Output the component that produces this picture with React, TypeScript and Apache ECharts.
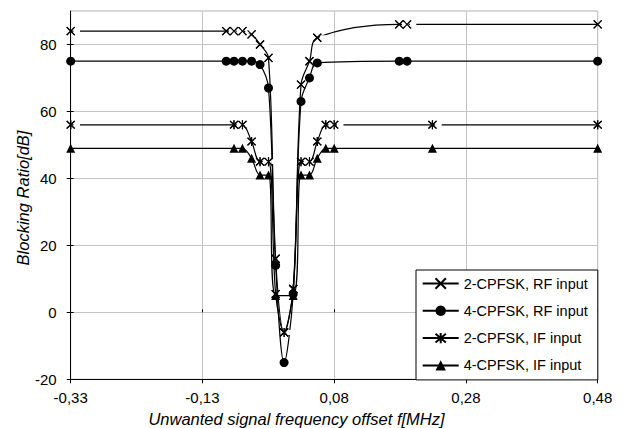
import React, { useEffect, useRef } from 'react';
import * as echarts from 'echarts';

// ---- axis definitions ----
const X_MIN = -0.33;
const X_MAX = 0.48;
const X_STEP = 0.2025;
const X_TICK_LABELS = ['-0,33', '-0,13', '0,08', '0,28', '0,48'];
const Y_MIN = -20;
const Y_MAX = 90;
const Y_TICKS = [-20, 0, 20, 40, 60, 80];

const SERIES_NAMES = ['2-CPFSK, RF input', '4-CPFSK, RF input', '2-CPFSK, IF input', '4-CPFSK, IF input'];
const X_TITLE = 'Unwanted signal frequency offset f[MHz]';
const Y_TITLE = 'Blocking Ratio[dB]';

// ---- data (MHz, dB) ----
const rf2X = [-0.33, -0.091, -0.079, -0.066, -0.052, -0.039, -0.026, -0.015, -0.002, 0.012, 0.024, 0.037, 0.049, 0.175, 0.187, 0.48];
const rf2Y = [84, 84, 84, 84, 83, 80, 76, 16, -6, 7, 68, 75, 82, 86, 86, 86];

const rf4X = [-0.33, -0.091, -0.079, -0.066, -0.052, -0.039, -0.026, -0.015, -0.002, 0.012, 0.024, 0.037, 0.049, 0.175, 0.187, 0.48];
const rf4Y = [75, 75, 75, 75, 75, 74, 67, 14, -15, 5.5, 63, 70, 74.5, 75, 75, 75];

const if2X = [-0.33, -0.079, -0.066, -0.052, -0.039, -0.026, -0.015, -0.002, 0.012, 0.024, 0.037, 0.049, 0.062, 0.075, 0.226, 0.48];
const if2Y = [56, 56, 56, 51, 45, 45, 5.5, -6, 7, 45, 45, 51, 56, 56, 56, 56];

const if4X = [-0.33, -0.079, -0.066, -0.052, -0.039, -0.026, -0.015, 0.012, 0.024, 0.037, 0.049, 0.062, 0.075, 0.226, 0.48];
const if4Y = [49, 49, 49, 46, 41, 41, 5, 5, 41, 41, 46, 49, 49, 49, 49];

const FONT = '"Liberation Sans", Arial, Helvetica, sans-serif';
const X_SYMBOL = 'path://M0,0L10,10M10,0L0,10';
const STAR_SYMBOL = 'path://M0,1L10,11M10,1L0,11M5,0L5,12';

const r4 = (v: number) => Math.round(v * 10000) / 10000;
const pairs = (xs: number[], ys: number[]) => xs.map((x, i) => [r4(x - X_MIN), ys[i]]);

function lineSeries(name: string, data: number[][], symbol: string, size: any, z: number, stroke: boolean) {
  return {
    type: 'line',
    name,
    data,
    z,
    smooth: 0.35,
    clip: false,
    symbol,
    symbolSize: size,
    showAllSymbol: true,
    lineStyle: { color: '#000', width: 1.2 },
    itemStyle: { color: '#000', borderColor: '#000', borderWidth: stroke ? 1.2 : 0, opacity: 1 },
    emphasis: { disabled: true },
    silent: true,
  };
}

function maskSeries(data: number[][], z: number) {
  return {
    type: 'scatter',
    name: 'mask' + z,
    data,
    z,
    clip: false,
    symbol: 'rect',
    symbolSize: [6.5, 5],
    symbolOffset: [6, 0],
    itemStyle: { color: '#fff', opacity: 1 },
    emphasis: { disabled: true },
    silent: true,
  };
}

function markSeries(data: number[][], symbol: string, size: any, z: number) {
  return {
    type: 'scatter',
    name: 'marks' + z,
    data,
    z,
    clip: false,
    symbol,
    symbolSize: size,
    itemStyle: { color: '#000', borderColor: '#000', borderWidth: 1.2, opacity: 1 },
    emphasis: { disabled: true },
    silent: true,
  };
}

export default function App() {
  const ref = useRef<HTMLDivElement>(null);
  useEffect(() => {
    if (!ref.current) return;
    const chart = echarts.init(ref.current, undefined, { renderer: 'svg' });
    const rf2 = pairs(rf2X, rf2Y);
    const rf4 = pairs(rf4X, rf4Y);
    const if2 = pairs(if2X, if2Y);
    const if4 = pairs(if4X, if4Y);
    const xSpan = r4(X_MAX - X_MIN);

    const option: any = {
      animation: false,
      backgroundColor: '#fff',
      textStyle: { fontFamily: FONT },
      grid: {
        left: 70.7,
        right: 28.3,
        top: 11,
        bottom: 48.7,
        show: true,
        borderColor: '#b0b0b0',
        borderWidth: 1,
        backgroundColor: 'transparent',
      },
      xAxis: [
        {
          type: 'value',
          min: 0,
          max: xSpan,
          interval: X_STEP,
          axisLine: { show: true, onZero: false, lineStyle: { color: '#000', width: 1 } },
          axisTick: { show: true, length: 4, lineStyle: { color: '#000' } },
          axisLabel: {
            formatter: (v: number) => X_TICK_LABELS[Math.round(v / X_STEP)] ?? '',
            fontSize: 15,
            color: '#000',
            margin: 11,
            fontFamily: FONT,
          },
          splitLine: { show: true, lineStyle: { color: '#c4c4c4', width: 1 } },
        },
        {
          type: 'value',
          min: 0,
          max: xSpan,
          interval: X_STEP,
          position: 'bottom',
          axisLine: { show: false },
          axisTick: { show: true, inside: true, length: 3, lineStyle: { color: '#000' } },
          axisLabel: { show: false },
          splitLine: { show: false },
        },
      ],
      yAxis: [
        {
          type: 'value',
          min: Y_MIN,
          max: Y_MAX,
          interval: 20,
          axisLine: { show: true, onZero: false, lineStyle: { color: '#000', width: 1 } },
          axisTick: { show: true, length: 4, customValues: Y_TICKS, lineStyle: { color: '#000' } },
          axisLabel: { customValues: Y_TICKS, fontSize: 15, color: '#000', margin: 14, fontFamily: FONT },
          splitLine: { show: true, lineStyle: { color: '#c4c4c4', width: 1 } },
        },
        {
          type: 'value',
          min: Y_MIN,
          max: Y_MAX,
          interval: 20,
          position: 'left',
          axisLine: { show: false },
          axisTick: { show: true, inside: true, length: 3, customValues: Y_TICKS, lineStyle: { color: '#000' } },
          axisLabel: { show: false },
          splitLine: { show: false },
        },
      ],
      legend: {
        data: SERIES_NAMES,
        orient: 'vertical',
        left: 416,
        top: 270,
        z: 20,
        itemWidth: 36,
        itemHeight: 13,
        itemGap: 12.3,
        padding: [6, 10, 7, 5.7],
        borderColor: '#000',
        borderWidth: 1,
        borderRadius: 0,
        backgroundColor: '#fff',
        selectedMode: false,
        textStyle: { fontSize: 14.5, color: '#000', fontFamily: FONT },
      },
      graphic: [
        {
          type: 'text',
          x: 296.5,
          y: 419,
          z: 30,
          style: {
            text: X_TITLE,
            font: `italic 16.5px ${FONT}`,
            fill: '#000',
            align: 'center',
            verticalAlign: 'middle',
          },
        },
        {
          type: 'text',
          x: 23,
          y: 198,
          rotation: Math.PI / 2,
          z: 30,
          style: {
            text: Y_TITLE,
            font: `italic 16.5px ${FONT}`,
            fill: '#000',
            align: 'center',
            verticalAlign: 'middle',
          },
        },
      ],
      series: [
        lineSeries(SERIES_NAMES[0], rf2, X_SYMBOL, 8, 2, true),
        maskSeries(rf2, 3),
        markSeries(rf2, X_SYMBOL, 8, 4),
        lineSeries(SERIES_NAMES[1], rf4, 'circle', 9, 5, false),
        lineSeries(SERIES_NAMES[2], if2, STAR_SYMBOL, [8, 9], 6, true),
        maskSeries(if2, 7),
        markSeries(if2, STAR_SYMBOL, [8, 9], 8),
        lineSeries(SERIES_NAMES[3], if4, 'triangle', 9, 9, false),
      ],
    };
    chart.setOption(option);
    return () => chart.dispose();
  }, []);
  return <div ref={ref} style={{ position: 'absolute', left: 0, top: 0, width: 626, height: 428 }} />;
}
